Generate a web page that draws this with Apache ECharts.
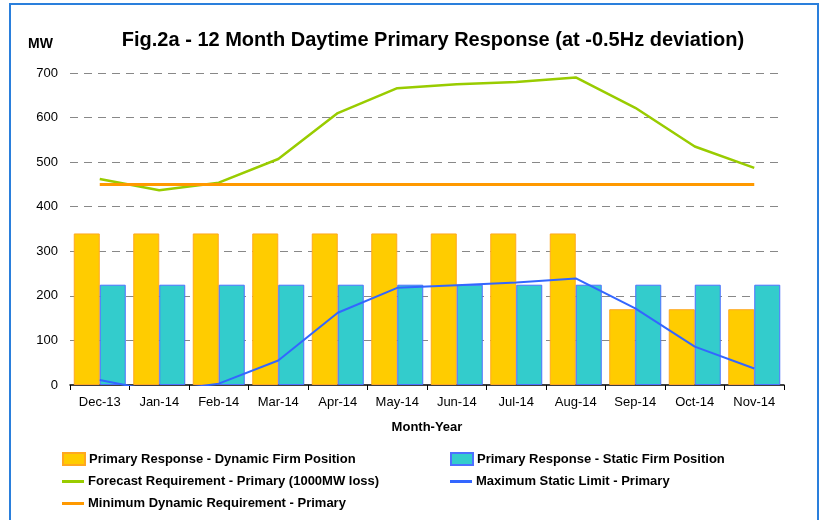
<!DOCTYPE html>
<html>
<head>
<meta charset="utf-8">
<script src="https://cdn.jsdelivr.net/npm/echarts@6/dist/echarts.min.js"></script>
<style>html,body{margin:0;padding:0;background:#fff}#c{width:821px;height:520px}</style>
</head>
<body>
<div id="c"></div>
<script>
var categories = ['Dec-13','Jan-14','Feb-14','Mar-14','Apr-14','May-14','Jun-14','Jul-14','Aug-14','Sep-14','Oct-14','Nov-14'];
var dynamicFirm = [340,340,340,340,340,340,340,340,340,170,170,170];
var staticFirm = [225,225,225,225,225,225,225,225,225,225,225,225];
var forecastReq = [462,437,454,507,610,666,675,680,690,622,535,487];
var maxStatic = [11,-15,3,55,162,218,224,230,239,172,86,37];
var minDynamic = [450,450,450,450,450,450,450,450,450,450,450,450];
var yTicks = [0,100,200,300,400,500,600,700];

var FONT = '"Liberation Sans", Arial, sans-serif';
var names = ['Primary Response - Dynamic Firm Position','Primary Response - Static Firm Position',
  'Forecast Requirement - Primary (1000MW loss)','Maximum Static Limit - Primary','Minimum Dynamic Requirement - Primary'];

function leg(name, left, top, isBar){
  return {
    data:[name], left:left, top:top, orient:'horizontal',
    icon:'rect', itemWidth:22, itemHeight: isBar ? 12 : 3, itemGap:0,
    padding:0,
    textStyle:{fontFamily:FONT, fontWeight:'bold', fontSize:13, color:'#000', padding:[0,0,0,-1]},
    selectedMode:false
  };
}

var chart = echarts.init(document.getElementById('c'));
chart.setOption({
  animation:false,
  backgroundColor:'#fff',
  title:{
    text:'Fig.2a - 12 Month Daytime Primary Response (at -0.5Hz deviation)',
    left:428, top:25, textAlign:'center',
    textStyle:{fontFamily:FONT, fontWeight:'bold', fontSize:20, color:'#000'}
  },
  graphic:[
    {type:'rect', shape:{x:10,y:4,width:808,height:530}, style:{fill:'none', stroke:'#2a7fdc', lineWidth:2}, silent:true},
    {type:'text', left:28, top:37, style:{text:'MW', font:'bold 14px "Liberation Sans", Arial, sans-serif', fill:'#000'}}
  ],
  legend:[
    leg(names[0], 62, 452, true),
    leg(names[1], 450, 452, true),
    leg(names[2], 62, 475, false),
    leg(names[3], 450, 475, false),
    leg(names[4], 62, 497, false)
  ],
  grid:{left:70, right:37, top:73, bottom:135, containLabel:false},
  xAxis:{
    type:'category', data:categories,
    axisLine:{lineStyle:{color:'#000', width:1.5}},
    axisTick:{show:true, length:5, lineStyle:{color:'#000'}},
    axisLabel:{fontFamily:FONT, fontSize:13, color:'#000', margin:11},
    name:'Month-Year', nameLocation:'middle', nameGap:36,
    nameTextStyle:{fontFamily:FONT, fontWeight:'bold', fontSize:13, color:'#000'}
  },
  yAxis:{
    type:'value', min:0, max:700, interval:100,
    axisLine:{show:false}, axisTick:{show:false},
    axisLabel:{fontFamily:FONT, fontSize:13, color:'#000', margin:12,
      formatter:function(v){return yTicks.indexOf(v)>=0 ? String(v) : '';}},
    splitLine:{show:true, lineStyle:{color:'#888', width:1, type:[8,6]}, showMinLine:false}
  },
  series:[
    {name:names[0], type:'bar', data:dynamicFirm, barWidth:26, barGap:'0%',
      itemStyle:{color:'#FFCC00', borderColor:'#FFA820', borderWidth:1}},
    {name:names[1], type:'bar', data:staticFirm, barWidth:26, barGap:'0%',
      itemStyle:{color:'#33CCCC', borderColor:'#4D70FF', borderWidth:1}},
    {name:names[2], type:'line', data:forecastReq, symbol:'none', z:5,
      lineStyle:{color:'#99CC00', width:2.5}, itemStyle:{color:'#99CC00'}},
    {name:names[3], type:'line', data:maxStatic, symbol:'none', z:6, clip:true,
      lineStyle:{color:'#3366FF', width:2}, itemStyle:{color:'#3366FF'}},
    {name:names[4], type:'line', data:minDynamic, symbol:'none', z:5,
      lineStyle:{color:'#FF9900', width:3}, itemStyle:{color:'#FF9900'}}
  ]
});
</script>
</body>
</html>
